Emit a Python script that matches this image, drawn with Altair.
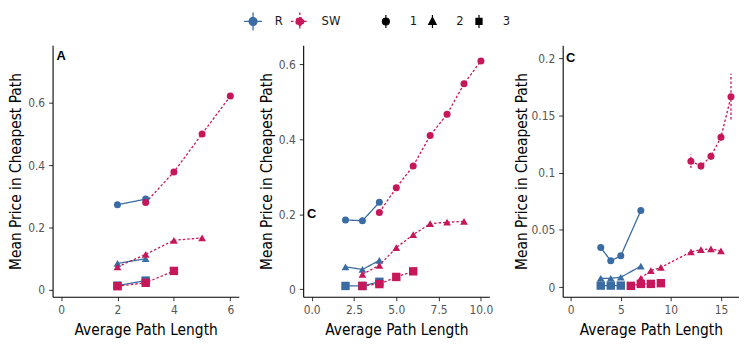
import altair as alt
import pandas as pd

FONT = "DejaVu Sans Condensed, Liberation Sans Narrow, sans-serif"
BOLD_FONT = "Liberation Sans, Arial, sans-serif"

SERIES = ["R", "SW"]
GROUPS = ["1", "2", "3"]
COLORS = ["#3b6ba3", "#c5175a"]

# ---------------- panel A ----------------
A_R1_X = [2, 3]
A_R1_Y = [0.273, 0.291]
A_SW1_X = [3, 4, 5, 6]
A_SW1_Y = [0.280, 0.378, 0.500, 0.621]
A_R2_X = [2, 3]
A_R2_Y = [0.085, 0.100]
A_SW2_X = [2, 3, 4, 5]
A_SW2_Y = [0.074, 0.114, 0.159, 0.167]
A_R3_X = [2, 3]
A_R3_Y = [0.014, 0.030]
A_SW3_X = [2, 3, 4]
A_SW3_Y = [0.012, 0.023, 0.061]

# ---------------- panel B (middle, labelled "C") ----------------
B_R1_X = [2, 3, 4]
B_R1_Y = [0.185, 0.183, 0.232]
B_SW1_X = [4, 5, 6, 7, 8, 9, 10]
B_SW1_Y = [0.205, 0.271, 0.329, 0.410, 0.467, 0.548, 0.609]
B_R2_X = [2, 3, 4]
B_R2_Y = [0.060, 0.053, 0.077]
B_SW2_X = [3, 4, 5, 6, 7, 8, 9]
B_SW2_Y = [0.040, 0.064, 0.111, 0.146, 0.175, 0.179, 0.181]
B_R3_X = [2, 3, 4]
B_R3_Y = [0.009, 0.009, 0.020]
B_SW3_X = [3, 4, 5, 6]
B_SW3_Y = [0.009, 0.014, 0.033, 0.048]

# ---------------- panel C ----------------
C_R1_X = [3, 4, 5, 7]
C_R1_Y = [0.0346, 0.0230, 0.0274, 0.0669]
C_SW1_X = [12, 13, 14, 15, 16]
C_SW1_Y = [0.1100, 0.1058, 0.1144, 0.1310, 0.1664]
C_SW1_ERR = [0.006, 0.003, 0.003, 0.003, 0.020]
C_R2_X = [3, 4, 5, 7]
C_R2_Y = [0.0078, 0.0078, 0.0087, 0.0184]
C_SW2_X = [7, 8, 9, 12, 13, 14, 15]
C_SW2_Y = [0.0078, 0.0144, 0.0173, 0.0308, 0.0328, 0.0334, 0.0317]
C_R3_X = [3, 4, 5]
C_R3_Y = [0.0014, 0.0014, 0.0014]
C_SW3_X = [6, 7, 8, 9]
C_SW3_Y = [0.0012, 0.0029, 0.0029, 0.0035]

# panel tags
ANNOT_TEXT = ["A", "C", "C"]
ANNOT_X = [0, 0, 0]
ANNOT_Y = [0.75, 0.2, 0.2]

X_TICKS = [[0, 2, 4, 6], [0, 2.5, 5, 7.5, 10], [0, 5, 10, 15]]
Y_TICKS = [[0, 0.2, 0.4, 0.6], [0, 0.2, 0.4, 0.6], [0, 0.05, 0.1, 0.15, 0.2]]
X_FORMAT = ["d", ".1f", "d"]
X_DOMAIN = [[-0.3, 6.3], [-0.5, 10.5], [-0.8, 16.8]]
Y_DOMAIN = [[-0.022, 0.784], [-0.020, 0.651], [-0.0084, 0.2113]]
PANEL_W = [188, 188, 178]
Y_EXTENT = [21, 21, 26]

# legend symbols (custom paths)
CROSS = "M-1,0H1M0,-1V1M0.44,0A0.44,0.44,0,1,1,-0.44,0A0.44,0.44,0,1,1,0.44,0Z"
SHAPE_PATHS = [
    "M0,-0.72V0.72M0.39,0A0.39,0.39,0,1,1,-0.39,0A0.39,0.39,0,1,1,0.39,0Z",
    "M0,-0.72V0.72M0,-0.46L0.42,0.32L-0.42,0.32Z",
    "M0,-0.72V0.72M-0.34,-0.34H0.34V0.34H-0.34Z",
]


def rows(series, group, xs, ys, errs=None):
    out = []
    for i, (x, y) in enumerate(zip(xs, ys)):
        out.append({"series": series, "group": group, "x": x, "y": y,
                    "err": (errs[i] if errs else 0.0)})
    return out


panel_data = [
    rows("R", "1", A_R1_X, A_R1_Y) + rows("R", "2", A_R2_X, A_R2_Y) + rows("R", "3", A_R3_X, A_R3_Y)
    + rows("SW", "1", A_SW1_X, A_SW1_Y) + rows("SW", "2", A_SW2_X, A_SW2_Y) + rows("SW", "3", A_SW3_X, A_SW3_Y),
    rows("R", "1", B_R1_X, B_R1_Y) + rows("R", "2", B_R2_X, B_R2_Y) + rows("R", "3", B_R3_X, B_R3_Y)
    + rows("SW", "1", B_SW1_X, B_SW1_Y) + rows("SW", "2", B_SW2_X, B_SW2_Y) + rows("SW", "3", B_SW3_X, B_SW3_Y),
    rows("R", "1", C_R1_X, C_R1_Y) + rows("R", "2", C_R2_X, C_R2_Y) + rows("R", "3", C_R3_X, C_R3_Y)
    + rows("SW", "1", C_SW1_X, C_SW1_Y, C_SW1_ERR) + rows("SW", "2", C_SW2_X, C_SW2_Y) + rows("SW", "3", C_SW3_X, C_SW3_Y),
]

color_scale = alt.Scale(domain=SERIES, range=COLORS)
dash_scale = alt.Scale(domain=SERIES, range=[[1, 0], [2.5, 2]])
shape_scale = alt.Scale(domain=GROUPS, range=["circle", "triangle-up", "square"])
size_scale = alt.Scale(domain=GROUPS, range=[50, 72, 44])


def panel(i):
    df = pd.DataFrame(panel_data[i])
    x = alt.X("x:Q", scale=alt.Scale(domain=X_DOMAIN[i], nice=False, zero=False),
              axis=alt.Axis(values=X_TICKS[i], format=X_FORMAT[i], title="Average Path Length",
                            titlePadding=7))
    y = alt.Y("y:Q", scale=alt.Scale(domain=Y_DOMAIN[i], nice=False, zero=False),
              axis=alt.Axis(values=Y_TICKS[i], format="~g", title="Mean Price in Cheapest Path",
                            minExtent=Y_EXTENT[i], maxExtent=Y_EXTENT[i], titlePadding=8))
    base = alt.Chart(df)
    lines = base.mark_line(strokeWidth=1.3).encode(
        x=x, y=y,
        color=alt.Color("series:N", scale=color_scale, legend=None),
        strokeDash=alt.StrokeDash("series:N", scale=dash_scale, legend=None),
        detail="group:N",
        order="x:Q",
    )
    errs = base.transform_filter("datum.err > 0").transform_calculate(
        lo="datum.y - datum.err", hi="datum.y + datum.err"
    ).mark_rule(strokeWidth=1.3).encode(
        x="x:Q", y="lo:Q", y2="hi:Q",
        color=alt.Color("series:N", scale=color_scale, legend=None),
        strokeDash=alt.StrokeDash("series:N", scale=dash_scale, legend=None),
    )
    pts = base.mark_point(filled=True, opacity=1).encode(
        x="x:Q", y="y:Q",
        color=alt.Color("series:N", scale=color_scale, legend=None),
        shape=alt.Shape("group:N", scale=shape_scale, legend=None),
        size=alt.Size("group:N", scale=size_scale, legend=None),
    )
    ann = alt.Chart(pd.DataFrame({"t": [ANNOT_TEXT[i]], "x": [ANNOT_X[i]], "y": [ANNOT_Y[i]]})).mark_text(
        font=BOLD_FONT, fontWeight="bold", fontSize=13, color="black"
    ).encode(x="x:Q", y="y:Q", text="t:N")
    return alt.layer(lines, errs, pts, ann).properties(width=PANEL_W[i], height=254)


# ---------------- legend row ----------------
leg_color_df = pd.DataFrame({"series": SERIES})
leg_shape_df = pd.DataFrame({"group": GROUPS, "path": SHAPE_PATHS})

cx = alt.X("series:N", bandPosition=0, axis=None,
           scale=alt.Scale(domain=SERIES, range=[169.8, 264.2], paddingInner=0, paddingOuter=0))
sx = alt.X("group:N", bandPosition=0, axis=None,
           scale=alt.Scale(domain=GROUPS, range=[304, 445], paddingInner=0, paddingOuter=0))

leg_c_sym = alt.Chart(leg_color_df).mark_point(
    shape=CROSS, size=324, filled=True, strokeWidth=1.3, opacity=1, xOffset=9
).encode(
    x=cx, y=alt.value(9),
    color=alt.Color("series:N", scale=color_scale, legend=None),
    stroke=alt.Stroke("series:N", scale=color_scale, legend=None),
    strokeDash=alt.StrokeDash("series:N", scale=dash_scale, legend=None),
)
leg_c_txt = alt.Chart(leg_color_df).mark_text(
    align="left", baseline="middle", dx=31, font=FONT, fontSize=13, color="#1a1a1a"
).encode(x=cx, y=alt.value(9), text="series:N")
leg_s_sym = alt.Chart(leg_shape_df).mark_point(
    size=324, filled=True, strokeWidth=1.2, opacity=1, color="black", stroke="black", xOffset=9
).encode(x=sx, y=alt.value(9), shape=alt.Shape("path:N", scale=None, legend=None))
leg_s_txt = alt.Chart(leg_shape_df).mark_text(
    align="left", baseline="middle", dx=33, font=FONT, fontSize=13, color="#1a1a1a"
).encode(x=sx, y=alt.value(9), text="group:N")

legend_row = alt.layer(leg_c_sym, leg_c_txt, leg_s_sym, leg_s_txt).resolve_scale(
    x="independent"
).properties(width=520, height=20)

panels = alt.hconcat(panel(0), panel(1), panel(2), spacing=21)

chart = alt.vconcat(legend_row, panels, spacing=12).resolve_scale(
    color="shared", strokeDash="shared"
).properties(
    padding={"left": 1, "top": 0, "right": 0, "bottom": 0}
).configure_view(stroke=None).configure_axis(
    grid=False, domainColor="black", domainWidth=1.1, tickColor="#333", tickSize=4,
    labelFont=FONT, labelFontSize=12, labelColor="#555", labelPadding=4,
    titleFont=FONT, titleFontSize=15.5, titleFontWeight="normal", titleColor="black",
)

chart.save("out.html", embed_options={"renderer": "svg", "actions": False})
